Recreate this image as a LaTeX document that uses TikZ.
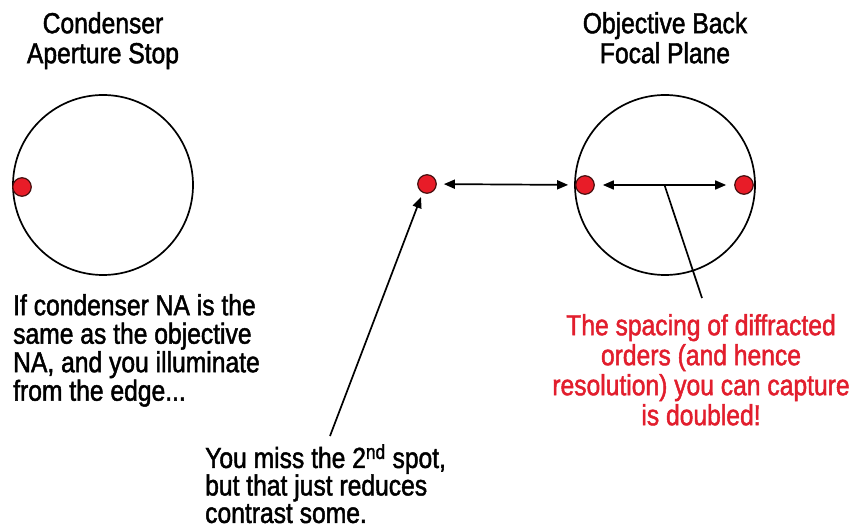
\documentclass[tikz,border=0pt]{standalone}
\usepackage{fontspec}
\setmainfont{Liberation Sans}[FakeStretch=0.85,FakeBold=1.6]
\usetikzlibrary{arrows.meta,calc}
\definecolor{txtred}{RGB}{226,30,45}
\definecolor{dotred}{RGB}{232,28,40}
\definecolor{dotedge}{RGB}{70,15,15}
\tikzset{
  aperture/.style={circle,draw=black,line width=1.7pt,minimum size=180pt,inner sep=0pt},
  spot/.style={circle,fill=dotred,draw=dotedge,line width=1.2pt,minimum size=18.5pt,inner sep=0pt},
  dbl/.style={line width=1.7pt,{Triangle[length=11pt,width=9pt]}-{Triangle[length=11pt,width=9pt]}},
  single/.style={line width=1.7pt,-{Triangle[length=11pt,width=9pt]}},
  plain/.style={line width=1.7pt},
  lbl/.style={inner sep=0pt,font=\fontsize{29}{30}\selectfont},
}
\begin{document}
\begin{tikzpicture}[x=1pt,y=-1pt]
\useasboundingbox[fill=white] (0,0) rectangle (859,529);
% titles
\node[lbl,anchor=north,align=center] (t1) at (103,12) {Condenser\\Aperture Stop};
\node[lbl,anchor=north,align=center] (t2) at (665,12) {Objective Back\\Focal Plane};
% circles
\node[aperture] (c1) at (103,185) {};
\node[aperture] (c2) at (665,185) {};
% spots
\node[spot] (s0) at (22,187) {};
\node[spot] (m) at (427,184) {};
\node[spot] (r1) at (585,185) {};
\node[spot] (r2) at (744,185) {};
% arrows
\draw[dbl,shorten <=7pt,shorten >=7pt] (m) -- (r1);
\draw[dbl,shorten <=8pt,shorten >=8pt] (r1) -- (r2);
% texts
\node[lbl,anchor=north west,align=left,font=\fontsize{29}{28.5}\selectfont] (left) at (13,294)
  {If condenser NA is the\\same as the objective\\NA, and you illuminate\\from the edge...};
\node[lbl,anchor=north,align=center,text=txtred] (red) at (701,314)
  {The spacing of diffracted\\orders (and hence\\resolution) you can capture\\is doubled!};
\node[lbl,anchor=north west,align=left,font=\fontsize{29}{27.5}\selectfont] (bot) at (205,444)
  {You miss the 2\textsuperscript{nd} spot,\\but that just reduces\\contrast some.};
% pointers
\coordinate (pstart) at (330,436);
\coordinate (ptip) at (421,197);
\draw[single] (pstart) -- (ptip);
\coordinate (rmid) at ($(r1)!0.5!(r2)$);
\coordinate (pend) at (702,298);
\draw[plain] (rmid) -- (pend);
\end{tikzpicture}
\end{document}
